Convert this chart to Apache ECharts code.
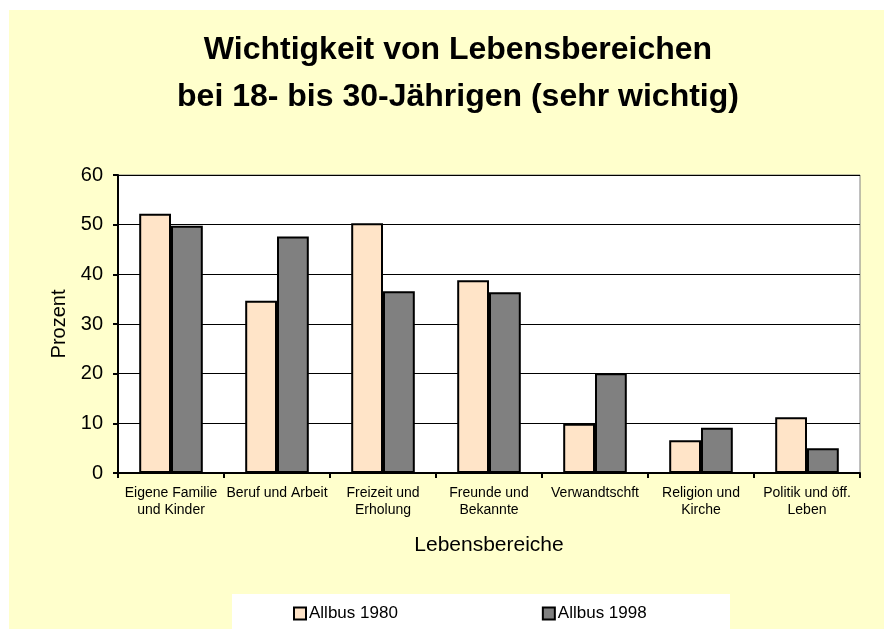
<!DOCTYPE html>
<html><head><meta charset="utf-8">
<script src="https://cdn.jsdelivr.net/npm/echarts@6/dist/echarts.min.js"></script>
<style>html,body{margin:0;padding:0;background:#fff}#c{width:884px;height:629px}</style>
</head><body><div id="c"></div>
<script>
const categories = ["Eigene Familie\nund Kinder","Beruf und Arbeit","Freizeit und\nErholung","Freunde und\nBekannte","Verwandtschft","Religion und\nKirche","Politik und öff.\nLeben"];
const allbus1980 = [52.2, 34.7, 50.3, 38.8, 9.9, 6.6, 11.2];
const allbus1998 = [49.8, 47.6, 36.6, 36.4, 20.1, 9.1, 5.0];
const yTicks = {min: 0, max: 60, interval: 10};

const chart = echarts.init(document.getElementById('c'), null, {renderer: 'canvas'});
const F = "Liberation Sans, Arial, sans-serif";
chart.setOption({
  backgroundColor: '#ffffff',
  animation: false,
  graphic: [
    {type: 'rect', z: -10, shape: {x: 9, y: 10, width: 875, height: 619}, style: {fill: '#FFFFCC'}},
    {type: 'rect', z: -5, shape: {x: 232, y: 594, width: 498, height: 35}, style: {fill: '#ffffff'}}
  ],
  title: {
    text: 'Wichtigkeit von Lebensbereichen\nbei 18- bis 30-Jährigen (sehr wichtig)',
    left: 453, top: 22, textAlign: 'center',
    textStyle: {fontFamily: F, fontSize: 32, fontWeight: 'bold', color: '#000', lineHeight: 47}
  },
  legend: {
    left: 293, top: 605, padding: 0, itemWidth: 12, itemHeight: 12, itemGap: 144,
    icon: 'rect',
    textStyle: {fontFamily: F, fontSize: 17, color: '#000', padding: [0, 0, 0, -2]},
    data: ['Allbus 1980', 'Allbus 1998']
  },
  grid: {left: 118, top: 175, right: 24, bottom: 156, show: true, backgroundColor: '#ffffff', borderColor: '#808080', borderWidth: 1},
  xAxis: {
    type: 'category', data: categories,
    name: 'Lebensbereiche', nameLocation: 'middle', nameGap: 62,
    nameTextStyle: {fontFamily: F, fontSize: 21, color: '#000'},
    axisLine: {lineStyle: {color: '#000', width: 2}},
    axisTick: {show: true, length: 5, lineStyle: {color: '#000', width: 2}},
    axisLabel: {fontFamily: F, fontSize: 14, color: '#000', lineHeight: 17, margin: 12, interval: 0}
  },
  yAxis: {
    type: 'value', min: yTicks.min, max: yTicks.max, interval: yTicks.interval,
    name: 'Prozent', nameLocation: 'middle', nameGap: 49,
    nameTextStyle: {fontFamily: F, fontSize: 20, color: '#000'},
    axisLine: {show: true, lineStyle: {color: '#000', width: 2}},
    axisTick: {show: true, length: 5, lineStyle: {color: '#000', width: 2}},
    axisLabel: {fontFamily: F, fontSize: 20, color: '#000', margin: 15},
    splitLine: {lineStyle: {color: '#000', width: 1}}
  },
  series: [
    {name: 'Allbus 1980', type: 'bar', data: allbus1980, barGap: '0%', barCategoryGap: '40%',
     itemStyle: {color: '#FFE4C8', borderColor: '#000', borderWidth: 2}},
    {name: 'Allbus 1998', type: 'bar', data: allbus1998,
     itemStyle: {color: '#808080', borderColor: '#000', borderWidth: 2}}
  ]
});
</script></body></html>
